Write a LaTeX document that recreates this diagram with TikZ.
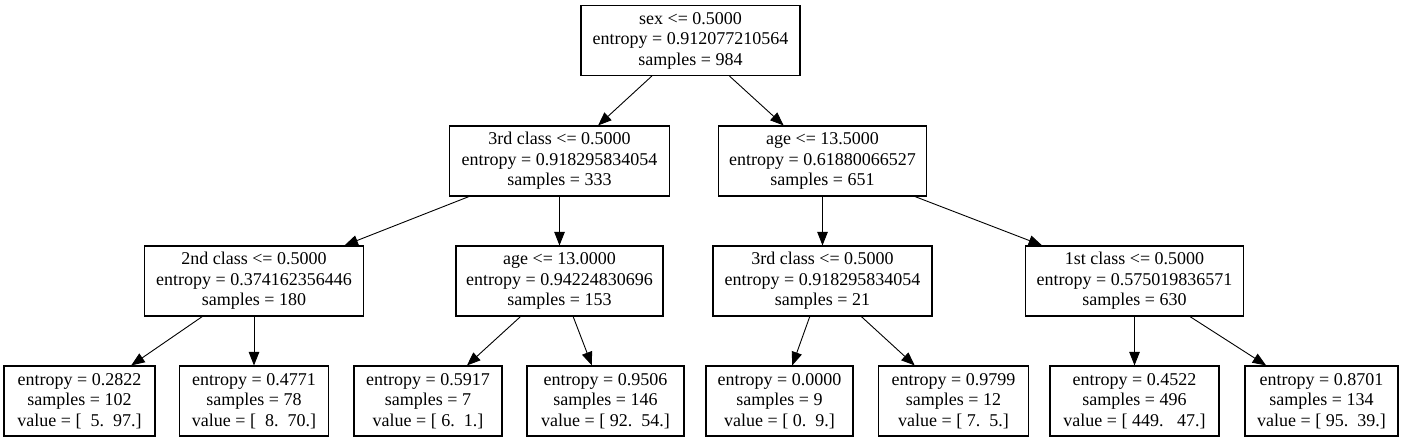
\documentclass[tikz,border=0pt]{standalone}
\usepackage{fontspec}
\setmainfont{Liberation Serif}
\usetikzlibrary{arrows.meta}
\begin{document}
\begin{tikzpicture}[x=1pt,y=-1pt,
  box/.style={draw, line width=1.1pt, rectangle, align=center, inner sep=0pt,
    minimum height=70pt, font=\fontsize{18}{20.5}\selectfont},
  edge/.style={line width=0.9pt, -{Triangle[length=13.5pt,width=10.5pt]}}]
\useasboundingbox (0,0) rectangle (1404,443);
% level 1
\node[box, minimum width=219pt] (root) at (690.5,40.5) {sex <= 0.5000\\entropy = 0.912077210564\\samples = 984};
% level 2
\node[box, minimum width=220pt] (a) at (559.5,161) {3rd class <= 0.5000\\entropy = 0.918295834054\\samples = 333};
\node[box, minimum width=208pt] (b) at (822.5,161) {age <= 13.5000\\entropy = 0.61880066527\\samples = 651};
% level 3
\node[box, minimum width=219pt] (aa) at (254,281) {2nd class <= 0.5000\\entropy = 0.374162356446\\samples = 180};
\node[box, minimum width=207pt] (ab) at (559.5,281) {age <= 13.0000\\entropy = 0.94224830696\\samples = 153};
\node[box, minimum width=219pt] (ba) at (822.5,281) {3rd class <= 0.5000\\entropy = 0.918295834054\\samples = 21};
\node[box, minimum width=218pt] (bb) at (1134.5,281) {1st class <= 0.5000\\entropy = 0.575019836571\\samples = 630};
% leaves
\node[box, minimum width=151pt] (l1) at (79.5,401) {entropy = 0.2822\\samples = 102\\value = [\ \ 5.\ \ 97.]};
\node[box, minimum width=149pt] (l2) at (254,401) {entropy = 0.4771\\samples = 78\\value = [\ \ 8.\ \ 70.]};
\node[box, minimum width=148pt] (l3) at (428,401) {entropy = 0.5917\\samples = 7\\value = [ 6.\ \ 1.]};
\node[box, minimum width=157pt] (l4) at (605.5,401) {entropy = 0.9506\\samples = 146\\value = [ 92.\ \ 54.]};
\node[box, minimum width=147pt] (l5) at (779.5,401) {entropy = 0.0000\\samples = 9\\value = [ 0.\ \ 9.]};
\node[box, minimum width=150pt] (l6) at (953.5,401) {entropy = 0.9799\\samples = 12\\value = [ 7.\ \ 5.]};
\node[box, minimum width=169pt] (l7) at (1134.5,401) {entropy = 0.4522\\samples = 496\\value = [ 449.\ \ \ 47.]};
\node[box, minimum width=153pt] (l8) at (1321.5,401) {entropy = 0.8701\\samples = 134\\value = [ 95.\ \ 39.]};
% edges
\draw[edge] (root) -- (a);
\draw[edge] (root) -- (b);
\draw[edge] (a) -- (aa);
\draw[edge] (a) -- (ab);
\draw[edge] (b) -- (ba);
\draw[edge] (b) -- (bb);
\draw[edge] (aa) -- (l1);
\draw[edge] (aa) -- (l2);
\draw[edge] (ab) -- (l3);
\draw[edge] (ab) -- (l4);
\draw[edge] (ba) -- (l5);
\draw[edge] (ba) -- (l6);
\draw[edge] (bb) -- (l7);
\draw[edge] (bb) -- (l8);
\end{tikzpicture}
\end{document}
